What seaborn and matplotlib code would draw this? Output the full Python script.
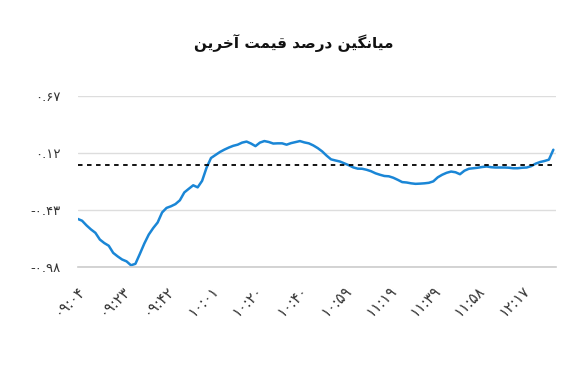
import numpy as np
import pandas as pd
import matplotlib
matplotlib.use("Agg")
import matplotlib.pyplot as plt
import seaborn as sns

# Persian title, written in shaped presentation forms (visual order)
title = ("\uFEE6\uFBFE\uFEAE\uFEA7\uFE81 "
         "\uFE96\uFEE4\uFBFF\uFED7 "
         "\uFEAA\uFEBB\uFEAD\uFEA9 "
         "\uFEE6\uFBFF\uFB95\uFEE7\uFE8E\uFBFF\uFEE3")

# average percent change of last price, one value per sample
values = [-0.519, -0.537, -0.582, -0.621, -0.654, -0.719, -0.753, -0.779, -0.848, -0.882,
          -0.912, -0.930, -0.968, -0.954, -0.858, -0.758, -0.671, -0.608, -0.554, -0.457,
          -0.413, -0.397, -0.376, -0.339, -0.263, -0.228, -0.194, -0.214, -0.151, -0.024,
          0.070, 0.099, 0.128, 0.151, 0.171, 0.188, 0.199, 0.219, 0.229, 0.210,
          0.185, 0.219, 0.234, 0.225, 0.210, 0.212, 0.212, 0.199, 0.214, 0.224,
          0.234, 0.221, 0.212, 0.192, 0.166, 0.134, 0.093, 0.057, 0.046, 0.036,
          0.018, 0.000, -0.021, -0.033, -0.034, -0.044, -0.058, -0.078, -0.092, -0.104,
          -0.107, -0.121, -0.141, -0.163, -0.167, -0.175, -0.180, -0.178, -0.175, -0.170,
          -0.156, -0.117, -0.092, -0.073, -0.061, -0.068, -0.087, -0.053, -0.034, -0.029,
          -0.024, -0.017, -0.012, -0.019, -0.022, -0.022, -0.022, -0.024, -0.029, -0.029,
          -0.024, -0.022, -0.009, 0.015, 0.031, 0.041, 0.054, 0.150]

time_labels = ["۰۹:۰۴", "۰۹:۲۳", "۰۹:۴۲", "۱۰:۰۱", "۱۰:۲۰", "۱۰:۴۰",
               "۱۰:۵۹", "۱۱:۱۹", "۱۱:۳۹", "۱۱:۵۸", "۱۲:۱۷"]
tick_step = 10

y_ticks = [0.67, 0.12, -0.43, -0.98]
y_labels = ["۰.۶۷", "۰.۱۲", "-۰.۴۳", "-۰.۹۸"]
baseline = 0.0

df = pd.DataFrame({"idx": np.arange(len(values)), "val": values})

sns.set_style("white")
plt.rcParams['font.family'] = ['DejaVu Sans']

fig = plt.figure(figsize=(5.88, 3.73), dpi=100)
ax = fig.add_axes([0.132, 0.2855, 0.8136, 0.4571])

sns.lineplot(data=df, x="idx", y="val", ax=ax, color="#1a86d6", linewidth=1.8)
ax.axhline(baseline, color="black", linestyle=(0, (2.5, 2.5)), linewidth=1.3)

ax.set_ylim(-0.98, 0.67)
ax.set_xlim(0, 107.6)
ax.set_yticks(y_ticks)
ax.set_yticklabels(y_labels, fontsize=9.5, color="#333333")
ax.yaxis.grid(True, color="#dddddd", linewidth=1)
ax.set_xticks([i * tick_step for i in range(len(time_labels))])
ax.set_xticklabels(time_labels, rotation=45, ha="right", va="top",
                   rotation_mode="anchor", fontsize=10.5, color="#333333")
ax.tick_params(axis="x", length=5, color="#cccccc", width=1, pad=7)
ax.tick_params(axis="y", length=0, pad=12)
ax.set_xlabel("")
ax.set_ylabel("")

for side in ["top", "right", "left"]:
    ax.spines[side].set_visible(False)
ax.spines["bottom"].set_color("#cccccc")
ax.spines["bottom"].set_linewidth(1.2)

fig.text(0.50, 0.885, title, ha="center", va="center", fontsize=11,
         fontweight="bold", color="#111111")

fig.savefig("out.png", dpi=100, facecolor="white")
